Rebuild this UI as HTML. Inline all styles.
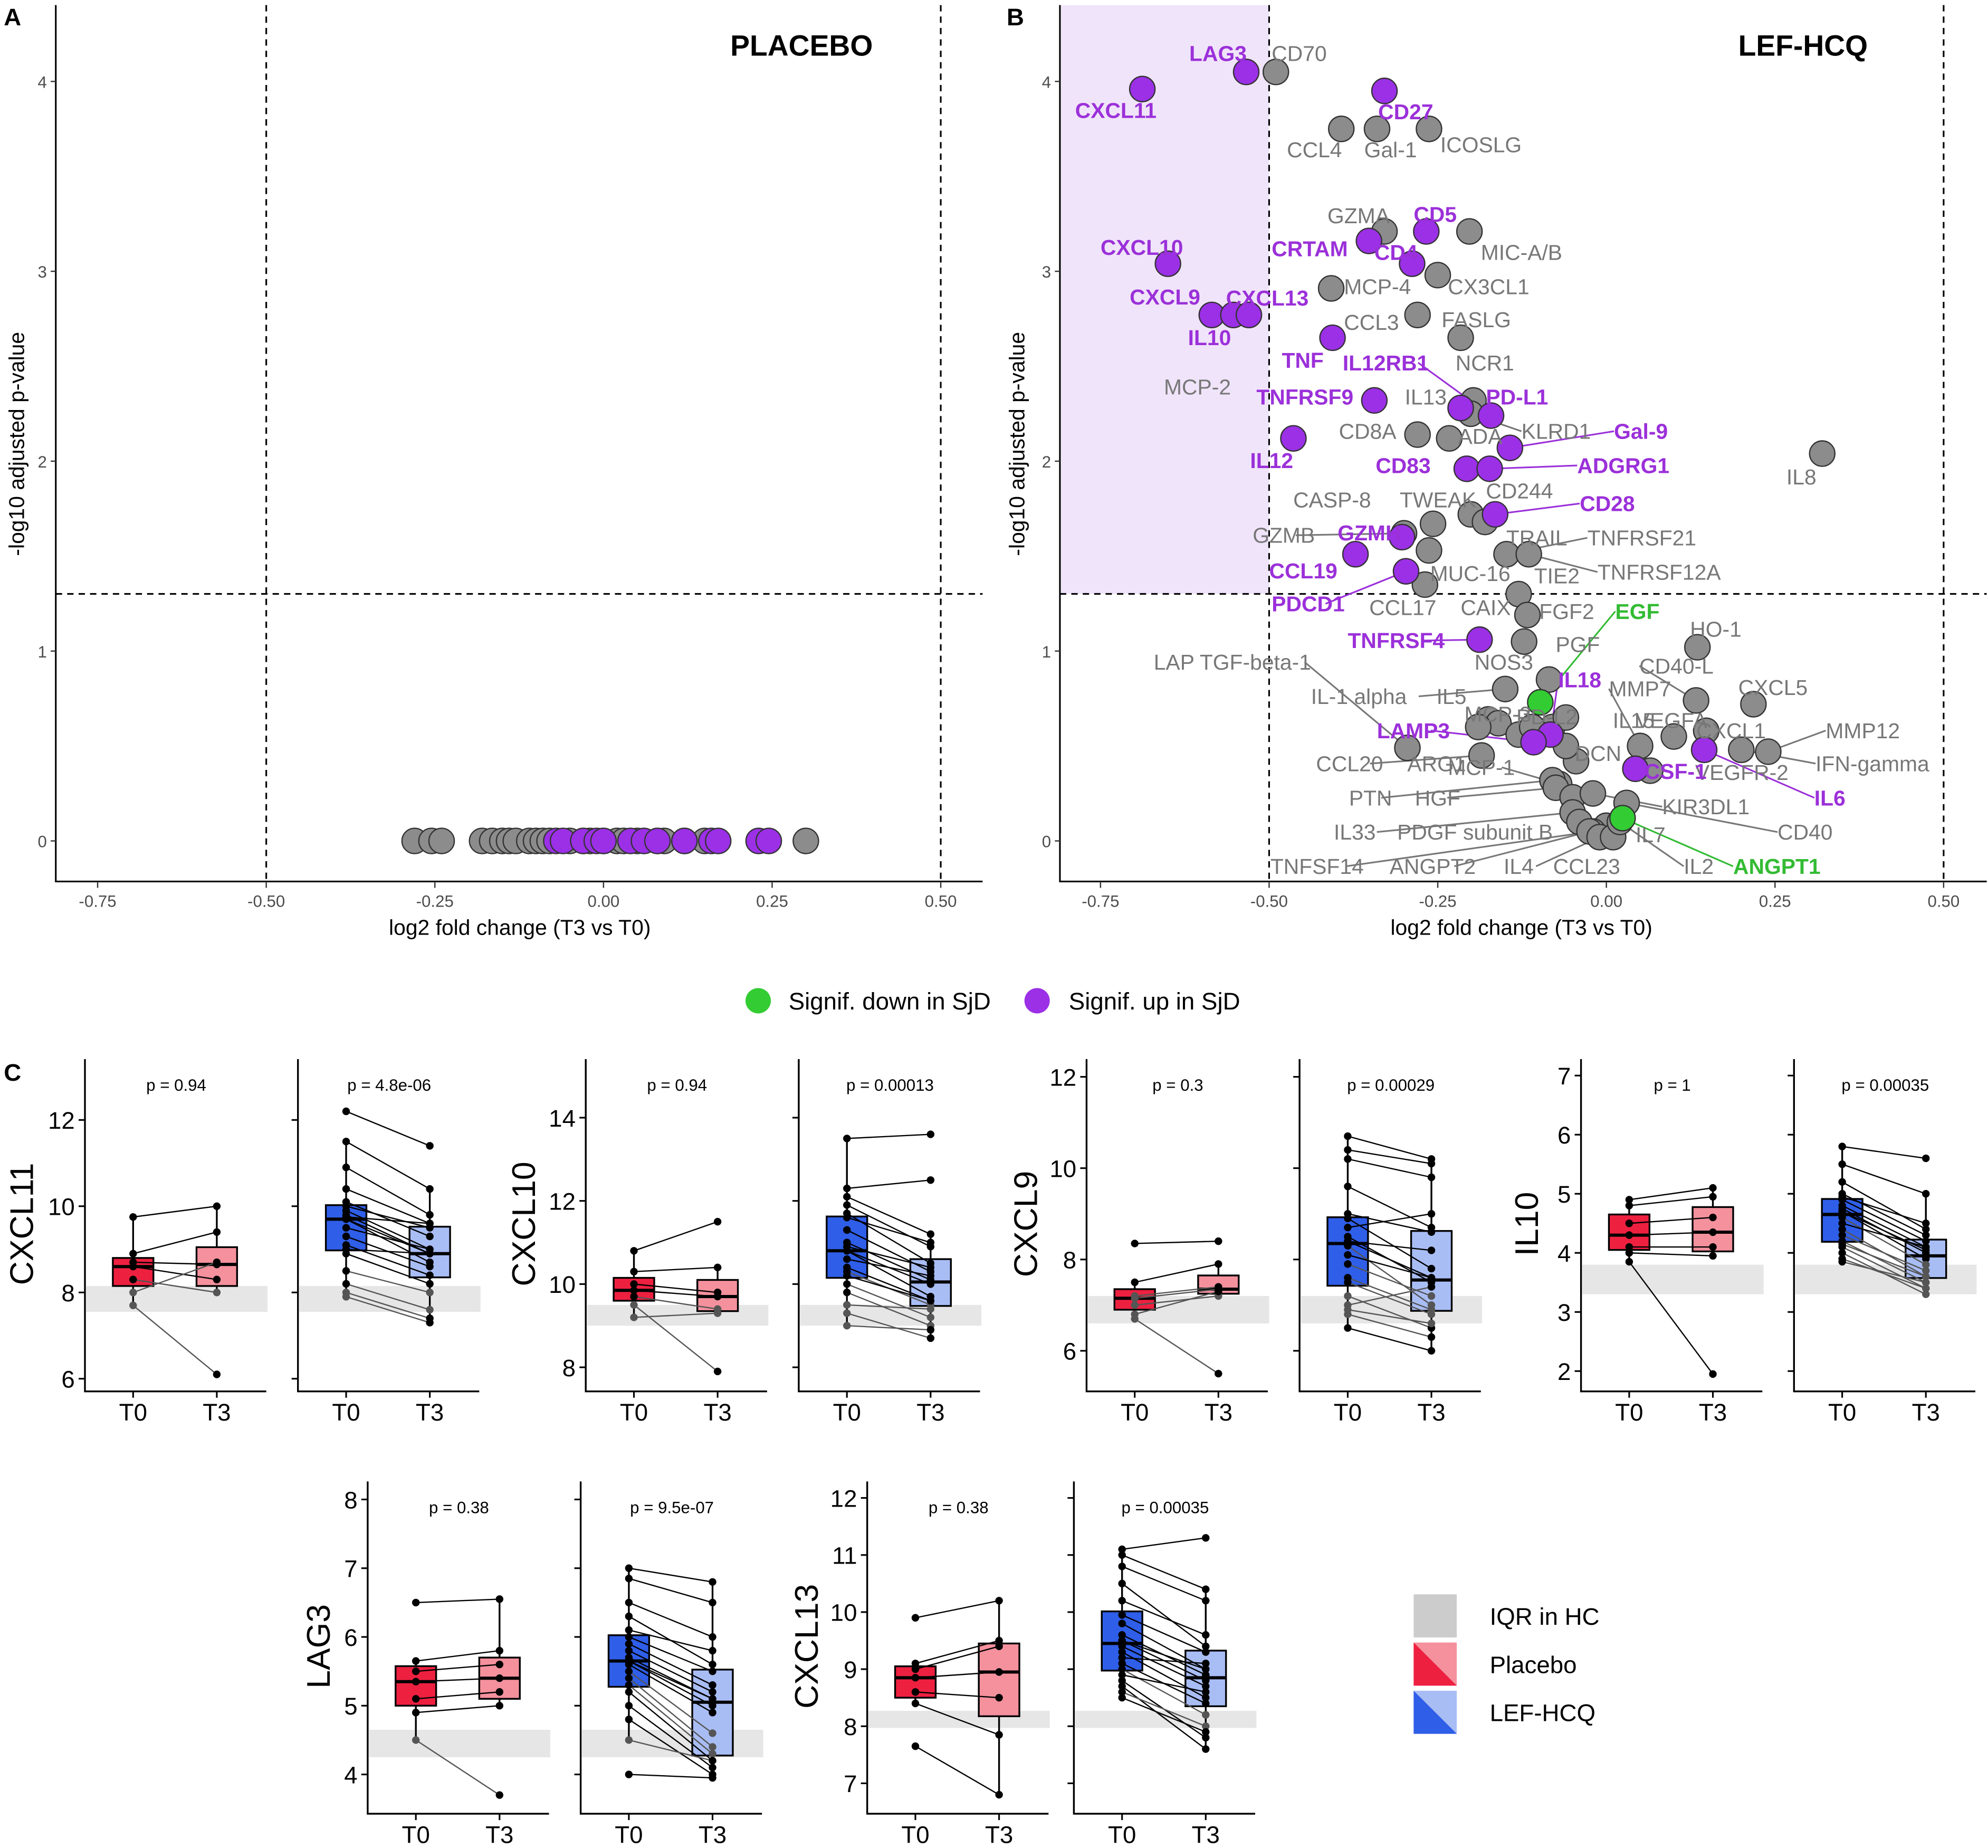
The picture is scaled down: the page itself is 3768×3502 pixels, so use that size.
<!DOCTYPE html>
<html><head><meta charset="utf-8"><style>
html,body{margin:0;padding:0;background:#fff}
svg{display:block}
text{font-family:"Liberation Sans",sans-serif}
</style></head><body>
<svg id="fig" width="3768" height="3502" viewBox="0 0 1568 1457" preserveAspectRatio="none" xmlns="http://www.w3.org/2000/svg">
<rect x="0" y="0" width="1568" height="1457" fill="#fff"/>
<g id="static">
<text x="3" y="20" font-size="19" font-weight="bold">A</text>
<text x="794" y="20" font-size="19" font-weight="bold">B</text>
<text x="3" y="852" font-size="19" font-weight="bold">C</text>
<text x="576" y="44" font-size="23" font-weight="bold">PLACEBO</text>
<text x="1371" y="44" font-size="23" font-weight="bold">LEF-HCQ</text>
<text x="410" y="737" font-size="17" text-anchor="middle">log2 fold change (T3 vs T0)</text>
<text x="1200" y="737" font-size="17" text-anchor="middle">log2 fold change (T3 vs T0)</text>
<text transform="translate(19,350) rotate(-90)" font-size="17" text-anchor="middle">-log10 adjusted p-value</text>
<text transform="translate(808,350) rotate(-90)" font-size="17" text-anchor="middle">-log10 adjusted p-value</text>
<g>
<circle cx="598" cy="789" r="10" fill="#33cc33"/>
<text x="622" y="796" font-size="19">Signif. down in SjD</text>
<circle cx="818" cy="789" r="10" fill="#9b30e6"/>
<text x="843" y="796" font-size="19">Signif. up in SjD</text>
</g>
<g>
<rect x="1115" y="1257" width="34" height="34" fill="#cccccc"/>
<text x="1175" y="1281" font-size="19">IQR in HC</text>
<rect x="1115" y="1295" width="34" height="34" fill="#f4919d"/>
<polygon points="1115,1295 1115,1329 1149,1329" fill="#ee2040"/>
<text x="1175" y="1319" font-size="19">Placebo</text>
<rect x="1115" y="1333" width="34" height="34" fill="#a9bdf5"/>
<polygon points="1115,1333 1115,1367 1149,1367" fill="#2f5ee8"/>
<text x="1175" y="1357" font-size="19">LEF-HCQ</text>
</g>
</g>
<g id="volA"></g>
<g id="volB"></g>
<g id="boxes"></g>
</svg>
<script>
// ---------- Volcano data ----------
const xTicks=[-0.75,-0.5,-0.25,0,0.25,0.5];
const xTickLabels=["-0.75","-0.50","-0.25","0.00","0.25","0.50"];
const yTicks=[0,1,2,3,4];
const placeboFC=[-0.28,-0.255,-0.24,-0.18,-0.165,-0.15,-0.14,-0.13,-0.11,-0.1,-0.09,-0.08,-0.05,-0.03,-0.02,0.0,0.02,0.03,0.05,0.08,0.09,0.12,0.15,0.3,-0.07,-0.06,-0.03,-0.01,0.0,0.04,0.06,0.08,0.12,0.16,0.17,0.23,0.245];
const placeboP=[0,0,0,0,0,0,0,0,0,0,0,0,0,0,0,0,0,0,0,0,0,0,0,0,0,0,0,0,0,0,0,0,0,0,0,0,0];
const placeboSig=["n","n","n","n","n","n","n","n","n","n","n","n","n","n","n","n","n","n","n","n","n","n","n","n","u","u","u","u","u","u","u","u","u","u","u","u","u"];
const lefNames=["CD70","CCL4","Gal-1","ICOSLG","GZMA","MIC-A/B","CX3CL1","MCP-4","CCL3","FASLG","NCR1","IL13","KLRD1","CD8A","ADA","IL8","CD244","TWEAK","GZMB","TRAIL","MUC-16","TNFRSF21","TNFRSF12A","CCL17","CAIX","FGF2","PGF","HO-1","NOS3","CD40-L","CXCL5","IL-1 alpha","IL5","MCP-3","PD-L2","IL15","VEGFA","CXCL1","MMP12","IFN-gamma","LAP TGF-beta-1","CCL20","ARG1","MCP-1","DCN","VEGFR-2","PTN","HGF","CXCL12","KIR3DL1","CD40","IL33","PDGF subunit B","IL7","TNFSF14","ANGPT2","IL4","CCL23","IL2","MMP7","g1","g2","g3",
"LAG3","CXCL11","CD27","CD5","CRTAM","CD4","CXCL10","CXCL9","CXCL13","IL10","TNF","TNFRSF9","IL12RB1","PD-L1","Gal-9","IL12","CD83","ADGRG1","CD28","GZMH","CCL19","PDCD1","TNFRSF4","IL18","LAMP3","CSF-1","IL6","EGF","ANGPT1"];
const lefFC=[-0.49,-0.393,-0.34,-0.263,-0.329,-0.203,-0.25,-0.408,-0.28,-0.216,-0.197,-0.216,-0.201,-0.28,-0.233,0.32,-0.201,-0.257,-0.3,-0.18,-0.263,-0.148,-0.115,-0.269,-0.13,-0.117,-0.122,0.135,-0.085,0.133,0.218,-0.15,-0.175,-0.16,-0.08,-0.06,0.1,0.148,0.24,0.2,-0.295,-0.185,-0.19,-0.07,-0.045,0.065,-0.08,-0.075,-0.05,-0.02,0.03,-0.05,-0.04,0.0,-0.02,-0.025,-0.01,0.01,0.02,0.05,-0.13,-0.11,-0.06,
-0.534,-0.688,-0.329,-0.267,-0.352,-0.288,-0.65,-0.585,-0.553,-0.53,-0.406,-0.344,-0.171,-0.216,-0.143,-0.464,-0.207,-0.173,-0.165,-0.303,-0.372,-0.297,-0.188,-0.083,-0.108,0.043,0.145,-0.098,0.024];
const lefP=[4.05,3.75,3.75,3.75,3.21,3.21,2.98,2.91,2.77,2.65,2.32,2.28,2.25,2.14,2.12,2.04,1.72,1.67,1.62,1.68,1.53,1.51,1.51,1.35,1.3,1.19,1.05,1.02,0.85,0.74,0.72,0.8,0.64,0.62,0.6,0.65,0.55,0.58,0.47,0.48,0.49,0.45,0.6,0.3,0.42,0.37,0.32,0.28,0.23,0.25,0.2,0.15,0.1,0.08,0.05,0.05,0.02,0.02,0.1,0.5,0.56,0.6,0.5,
4.05,3.96,3.95,3.21,3.16,3.04,3.04,2.77,2.77,2.77,2.65,2.32,2.24,2.28,2.07,2.12,1.96,1.96,1.72,1.6,1.51,1.42,1.06,0.56,0.52,0.38,0.48,0.73,0.12];
const lefSig=["n","n","n","n","n","n","n","n","n","n","n","n","n","n","n","n","n","n","n","n","n","n","n","n","n","n","n","n","n","n","n","n","n","n","n","n","n","n","n","n","n","n","n","n","n","n","n","n","n","n","n","n","n","n","n","n","n","n","n","n","n","n","n",
"u","u","u","u","u","u","u","u","u","u","u","u","u","u","u","u","u","u","u","u","u","u","u","u","u","u","u","d","d"];
// label layout (text anchor positions in figure units), not data
const lefLabels=[["CD70",1003,48,"#777"],["CCL4",1015,124,"#777"],["Gal-1",1076,124,"#777"],["ICOSLG",1136,120,"#777"],["GZMA",1047,176,"#777"],["MIC-A/B",1168,205,"#777"],["CX3CL1",1142,232,"#777"],["MCP-4",1060,232,"#777"],["CCL3",1060,260,"#777"],["FASLG",1137,258,"#777"],["NCR1",1148,292,"#777"],["IL13",1108,319,"#777"],["KLRD1",1200,346,"#777"],["CD8A",1056,346,"#777"],["ADA",1150,350,"#777"],["IL8",1409,382,"#777"],["CASP-8",1020,400,"#777"],["TWEAK",1104,400,"#777"],["CD244",1172,393,"#777"],["GZMB",988,428,"#777"],["TRAIL",1188,430,"#777"],["TNFRSF21",1252,430,"#777"],["MUC-16",1128,458,"#777"],["TIE2",1210,460,"#777"],["TNFRSF12A",1260,457,"#777"],["CCL17",1080,485,"#777"],["CAIX",1152,485,"#777"],["FGF2",1214,488,"#777"],["HO-1",1333,502,"#777"],["PGF",1227,514,"#777"],["NOS3",1163,528,"#777"],["LAP TGF-beta-1",910,528,"#777"],["CD40-L",1293,531,"#777"],["MMP7",1269,549,"#777"],["CXCL5",1371,548,"#777"],["IL-1 alpha",1034,555,"#777"],["IL5",1133,555,"#777"],["MCP-3",1155,569,"#777"],["PD-L2",1196,571,"#777"],["IL15",1272,574,"#777"],["VEGFA",1290,574,"#777"],["CXCL1",1338,582,"#777"],["MMP12",1440,582,"#777"],["CCL20",1038,608,"#777"],["ARG1",1110,608,"#777"],["MCP-1",1142,611,"#777"],["DCN",1242,600,"#777"],["VEGFR-2",1337,615,"#777"],["IFN-gamma",1432,608,"#777"],["PTN",1064,635,"#777"],["HGF",1116,635,"#777"],["KIR3DL1",1311,642,"#777"],["CD40",1402,662,"#777"],["IL33",1052,662,"#777"],["PDGF subunit B",1102,662,"#777"],["IL7",1290,664,"#777"],["TNFSF14",1002,689,"#777"],["ANGPT2",1096,689,"#777"],["IL4",1186,689,"#777"],["CCL23",1225,689,"#777"],["IL2",1328,689,"#777"],
["LAG3",938,48,"#9b30d9",1],["CXCL11",848,93,"#9b30d9",1],["CD27",1087,94,"#9b30d9",1],["CD5",1115,175,"#9b30d9",1],["CRTAM",1003,202,"#9b30d9",1],["CD4",1084,205,"#9b30d9",1],["CXCL10",868,201,"#9b30d9",1],["CXCL9",891,240,"#9b30d9",1],["CXCL13",967,241,"#9b30d9",1],["IL10",937,272,"#9b30d9",1],["TNF",1011,290,"#9b30d9",1],["IL12RB1",1059,292,"#9b30d9",1],["MCP-2",918,311,"#777"],["TNFRSF9",991,319,"#9b30d9",1],["PD-L1",1172,319,"#9b30d9",1],["Gal-9",1273,346,"#9b30d9",1],["IL12",986,369,"#9b30d9",1],["CD83",1085,373,"#9b30d9",1],["ADGRG1",1244,373,"#9b30d9",1],["CD28",1246,403,"#9b30d9",1],["GZMH",1055,426,"#9b30d9",1],["CCL19",1001,456,"#9b30d9",1],["PDCD1",1003,482,"#9b30d9",1],["EGF",1274,488,"#33bb33",1],["TNFRSF4",1063,511,"#9b30d9",1],["IL18",1229,542,"#9b30d9",1],["LAMP3",1086,582,"#9b30d9",1],["CSF-1",1297,614,"#9b30d9",1],["IL6",1431,635,"#9b30d9",1],["ANGPT1",1367,689,"#33bb33",1]];

const NS="http://www.w3.org/2000/svg";
function mk(tag,attrs,parent){const e=document.createElementNS(NS,tag);for(const k in attrs)e.setAttribute(k,attrs[k]);parent.appendChild(e);return e;}
const sy=v=>663-149.7*v;
const col={n:"#8c8c8c",u:"#9b30e6",d:"#33cc33"};

function volcanoAxes(g,x0,zeroX,hasShade){
  const sx=v=>zeroX+532*v;
  if(hasShade){const r=mk("rect",{x:837,y:4,width:sx(-0.5)-837,height:sy(1.301)-4,fill:"#f0e4fa"},g);
    
    }
  const ax=mk("path",{d:`M${x0},4 V695 H${x0+731}`,stroke:"#000","stroke-width":1.3,fill:"none"},g);
  
  
  xTicks.forEach((t,i)=>{
    const tk=mk("line",{x1:sx(t),x2:sx(t),y1:695,y2:700,stroke:"#333"},g);
    
    
    const tl=mk("text",{x:sx(t),y:715,"font-size":13,fill:"#4d4d4d","text-anchor":"middle"},g);tl.textContent=xTickLabels[i];
    
    
  });
  yTicks.forEach(t=>{
    const tk=mk("line",{x1:x0-4,x2:x0,y1:sy(t),y2:sy(t),stroke:"#333"},g);
    
    
    const tl=mk("text",{x:x0-7,y:sy(t)+5,"font-size":13,fill:"#4d4d4d","text-anchor":"end"},g);tl.textContent=t;
    
    
  });
  [[sx(-0.5),4,sx(-0.5),695],[sx(0.5),4,sx(0.5),695],[x0,sy(1.301),x0+731,sy(1.301)]].forEach(c=>{
    const l=mk("line",{x1:c[0],y1:c[1],x2:c[2],y2:c[3],stroke:"#000","stroke-dasharray":"5,4","stroke-width":1.3},g);
    
    
  });
  return sx;
}
const gA=document.getElementById("volA");
const sxA=volcanoAxes(gA,44,476,false);
placeboFC.forEach((v,i)=>{
  const c=mk("circle",{cx:sxA(v),cy:sy(placeboP[i]),r:10,fill:col[placeboSig[i]],stroke:"#333","stroke-width":1},gA);
  
  
});
const gB=document.getElementById("volB");
const sxB=volcanoAxes(gB,836,1267,true);
const ptByName={};
lefFC.forEach((v,i)=>{ptByName[lefNames[i]]=[sxB(v),sy(lefP[i]),lefSig[i]];});
lefLabels.forEach(L=>{
  const p=ptByName[L[0]];
  if(p){const w=L[0].length*8.5;const tx=(p[0]>L[1]+w)?L[1]+w:L[1];const ty=L[2]-6;const d=Math.hypot(p[0]-tx,p[1]-ty);
    if(d>42){const ln=mk("line",{x1:p[0],y1:p[1],x2:tx,y2:ty,stroke:L[3]=="#777"?"#777":L[3],"stroke-width":1.3},gB);
      
      }}
});
lefFC.forEach((v,i)=>{
  const c=mk("circle",{cx:sxB(v),cy:sy(lefP[i]),r:10,fill:col[lefSig[i]],stroke:"#333","stroke-width":1},gB);
  
  
});
lefLabels.forEach(L=>{
  const t=mk("text",{x:L[1],y:L[2],"font-size":17,fill:L[3],"font-weight":L[4]?"bold":"normal"},gB);t.textContent=L[0];
  
  
});

// ---------- Boxplot data ----------
const cxcl11PlaT0=[9.75,8.9,8.7,8.6,8.3,8.0,7.7];
const cxcl11PlaT3=[10.0,9.4,8.65,8.3,8.0,8.7,6.1];
const cxcl11LefT0=[12.2,11.5,10.9,10.4,10.1,10.0,9.9,9.8,9.75,9.7,9.7,9.5,9.3,9.1,9.0,8.9,8.5,8.2,8.0,7.9];
const cxcl11LefT3=[11.4,10.4,9.8,9.6,9.3,9.5,9.0,8.9,9.6,8.9,8.7,9.0,8.6,8.4,8.9,8.2,8.0,7.6,7.4,7.3];
const cxcl10PlaT0=[10.8,10.3,10.0,9.85,9.7,9.5,9.2];
const cxcl10PlaT3=[11.5,10.4,9.8,9.7,9.4,7.9,9.3];
const cxcl10LefT0=[13.5,12.3,12.1,11.9,11.7,11.6,11.3,11.0,10.9,10.8,10.8,10.6,10.4,10.3,10.2,10.0,9.8,9.5,9.3,9.0];
const cxcl10LefT3=[13.6,12.5,11.2,10.9,10.5,11.0,10.3,10.1,10.4,10.0,9.7,10.2,9.6,9.5,9.6,9.2,9.0,9.4,8.7,8.9];
const cxcl9PlaT0=[8.35,7.5,7.2,7.15,7.0,6.8,6.7];
const cxcl9PlaT3=[8.4,7.9,7.4,7.35,7.2,7.3,5.5];
const cxcl9LefT0=[10.7,10.4,10.2,9.6,9.0,8.9,8.7,8.5,8.4,8.4,8.3,8.1,7.9,7.6,7.5,7.2,7.0,6.8,6.5,6.9];
const cxcl9LefT3=[10.2,10.1,9.8,8.7,8.6,7.8,9.0,7.5,7.6,8.2,7.0,7.6,7.2,6.9,6.8,6.5,7.4,6.3,6.0,6.6];
const il10PlaT0=[4.9,4.8,4.5,4.3,4.1,4.0,3.85];
const il10PlaT3=[5.1,4.95,4.6,4.35,4.1,3.95,1.95];
const il10LefT0=[5.8,5.5,5.2,5.0,4.95,4.9,4.8,4.75,4.7,4.7,4.6,4.4,4.3,4.2,4.15,4.1,4.0,3.9,3.85,4.5];
const il10LefT3=[5.6,5.0,4.4,4.3,4.5,4.2,4.1,4.0,4.05,3.9,3.8,3.6,3.7,3.5,3.6,3.4,3.3,3.4,3.5,4.1];
const lag3PlaT0=[6.5,5.65,5.5,5.35,5.1,4.9,4.5];
const lag3PlaT3=[6.55,5.8,5.6,5.4,5.2,5.0,3.7];
const lag3LefT0=[7.0,6.85,6.5,6.3,6.0,5.9,5.8,5.7,5.65,5.65,5.6,5.5,5.4,5.3,5.2,5.0,4.8,4.5,4.0,6.1];
const lag3LefT3=[6.8,6.5,6.0,5.6,5.5,5.3,5.2,5.1,5.0,5.1,4.9,4.6,4.4,4.3,4.2,4.1,4.0,4.2,3.95,5.8];
const cxcl13PlaT0=[9.9,9.1,9.0,8.85,8.6,8.4,7.65];
const cxcl13PlaT3=[10.2,9.5,9.4,8.95,8.5,7.85,6.8];
const cxcl13LefT0=[11.1,11.0,10.8,10.5,10.2,9.95,9.8,9.6,9.5,9.5,9.4,9.3,9.1,9.0,8.9,8.8,8.7,8.6,8.5,9.2];
const cxcl13LefT3=[11.3,10.4,10.2,9.4,9.6,9.3,9.0,8.9,8.8,9.0,8.7,8.5,8.4,8.2,8.6,7.8,7.6,8.0,7.9,9.1];
const hcIQR={CXCL11:[7.55,8.15],CXCL10:[9.0,9.5],CXCL9:[6.6,7.2],IL10:[3.3,3.8],LAG3:[4.25,4.65],CXCL13:[7.97,8.27]};
const pPla={CXCL11:"0.94",CXCL10:"0.94",CXCL9:"0.3",IL10:"1",LAG3:"0.38",CXCL13:"0.38"};
const pLef={CXCL11:"4.8e-06",CXCL10:"0.00013",CXCL9:"0.00029",IL10:"0.00035",LAG3:"9.5e-07",CXCL13:"0.00035"};
const boxTicks={CXCL11:[6,8,10,12],CXCL10:[8,10,12,14],CXCL9:[6,8,10,12],IL10:[2,3,4,5,6,7],LAG3:[4,5,6,7,8],CXCL13:[7,8,9,10,11,12]};

const layout=[
 ["CXCL11",67,235,1087,34,835,1097,cxcl11PlaT0,cxcl11PlaT3,cxcl11LefT0,cxcl11LefT3,14,965],
 ["CXCL10",462,630,1078,32.8,835,1097,cxcl10PlaT0,cxcl10PlaT3,cxcl10LefT0,cxcl10LefT3,410,965],
 ["CXCL9",857,1025,1065,36,835,1097,cxcl9PlaT0,cxcl9PlaT3,cxcl9LefT0,cxcl9LefT3,806,965],
 ["IL10",1247,1415,1081,46.6,835,1097,il10PlaT0,il10PlaT3,il10LefT0,il10LefT3,1201,965],
 ["LAG3",290,458,1399,54.2,1168,1430,lag3PlaT0,lag3PlaT3,lag3LefT0,lag3LefT3,248,1298],
 ["CXCL13",684,847,1406,45,1168,1430,cxcl13PlaT0,cxcl13PlaT3,cxcl13LefT0,cxcl13LefT3,633,1298]
];
function q(arr,p){const s=[...arr].sort((a,b)=>a-b);const h=(s.length-1)*p;const lo=Math.floor(h),hi=Math.ceil(h);return s[lo]+(s[hi]-s[lo])*(h-lo);}
const gb=document.getElementById("boxes");
layout.forEach(L=>{
  const [name,xl,xr,y0,ppu,top,bot,pt0,pt3,lt0,lt3,tx,ty]=L;
  const ticks=boxTicks[name];
  const ys=v=>y0-(v-ticks[0])*ppu;
  const tt=mk("text",{transform:`translate(${tx+12},${ty}) rotate(-90)`,"font-size":26,"text-anchor":"middle"},gb);tt.textContent=name;
  
  
  [[xl,pt0,pt3,"#ee2040","#f4919d",pPla[name]],[xr,lt0,lt3,"#2f5ee8","#a9bdf5",pLef[name]]].forEach((P,pi)=>{
    const [x0,a,b,c0,c3,pv]=P;const w=143;
    const hc=hcIQR[name];
    const band=mk("rect",{x:x0+1,y:ys(hc[1]),width:w,height:ys(hc[0])-ys(hc[1]),fill:"#e6e6e6"},gb);
    
    
    const ax=mk("path",{d:`M${x0},${top} V${bot} H${x0+w}`,stroke:"#000","stroke-width":1.4,fill:"none"},gb);
    
    
    ticks.forEach(t=>{
      const tk=mk("line",{x1:x0-5,x2:x0,y1:ys(t),y2:ys(t),stroke:"#000","stroke-width":1.3},gb);
      
      
      if(pi===0){const tl=mk("text",{x:x0-8,y:ys(t)+7,"font-size":19,"text-anchor":"end"},gb);tl.textContent=t;
        
        }
    });
    const xs=[x0+38,x0+104];
    ["T0","T3"].forEach((lab,k)=>{
      const tk=mk("line",{x1:xs[k],x2:xs[k],y1:bot,y2:bot+5,stroke:"#000","stroke-width":1.3},gb);
      
      
      const tl=mk("text",{x:xs[k],y:bot+23,"font-size":19,"text-anchor":"middle"},gb);tl.textContent=lab;
      
      
    });
    const pt=mk("text",{x:x0+72,y:top+25,"font-size":13,"text-anchor":"middle"},gb);pt.textContent="p = "+pv;
    
    
    [a,b].forEach((arr,k)=>{
      const q1=q(arr,0.25),md=q(arr,0.5),q3=q(arr,0.75),iqr=q3-q1;
      const wlo=Math.min(...arr.filter(v=>v>=q1-1.5*iqr)),whi=Math.max(...arr.filter(v=>v<=q3+1.5*iqr));
      const cx=xs[k];
      const wl=mk("line",{x1:cx,x2:cx,y1:ys(whi),y2:ys(wlo),stroke:"#000","stroke-width":1.4},gb);
      
      
      const bx=mk("rect",{x:cx-16,y:ys(q3),width:32,height:ys(q1)-ys(q3),fill:k?c3:c0,stroke:"#000","stroke-width":1.4},gb);
      
      
      const ml=mk("line",{x1:cx-16,x2:cx+16,y1:ys(md),y2:ys(md),stroke:"#000","stroke-width":2.5},gb);
      
      
    });
    a.forEach((v,i)=>{
      const inBand=v=>v>=hc[0]&&v<=hc[1];
      const l=mk("line",{x1:xs[0],y1:ys(v),x2:xs[1],y2:ys(b[i]),stroke:(inBand(v)||inBand(b[i]))?"#555":"#000","stroke-width":1},gb);
      
      
    });
    [a,b].forEach((arr,k)=>arr.forEach(v=>{
      const inB=v>=hc[0]&&v<=hc[1];
      const d=mk("circle",{cx:xs[k],cy:ys(v),r:3,fill:inB?"#555":"#000"},gb);
      
      
    }));
  });
});
</script>
</body></html>
